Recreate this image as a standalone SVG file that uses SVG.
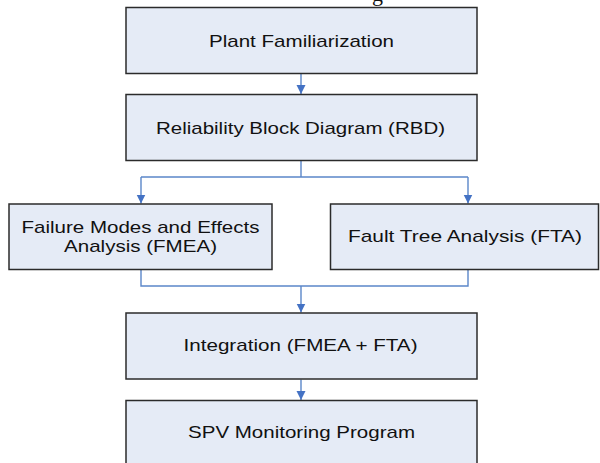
<svg xmlns="http://www.w3.org/2000/svg" width="600" height="463" viewBox="0 0 600 463">
  <style>
    .box { fill: #e5ebf6; stroke: #2b2b2b; stroke-width: 1.5; }
    .lbl { font-family: "Liberation Sans", Arial, sans-serif; font-size: 17px; fill: #111; text-anchor: middle; }
    .conn { fill: none; stroke: #5b87c9; stroke-width: 1.4; }
    .cap { font-family: "Liberation Serif", "Times New Roman", serif; font-size: 22px; fill: #111; }
  </style>
  <defs>
    <marker id="arrow" markerUnits="userSpaceOnUse" markerWidth="10" markerHeight="10" refX="9" refY="4.5" orient="auto">
      <path d="M0,0 L9,4.5 L0,9 Z" fill="#4472c4"/>
    </marker>
  </defs>

  <!-- descender of the caption line above the chart -->
  <text class="cap" x="372" y="0.5">g</text>

  <g id="connectors">
    <path class="conn" d="M301,73.5 V94" marker-end="url(#arrow)"/>
    <path class="conn" d="M301,160.5 V177 M141,177 H468"/>
    <path class="conn" d="M141,177 V203.5" marker-end="url(#arrow)"/>
    <path class="conn" d="M468,177 V203.5" marker-end="url(#arrow)"/>
    <path class="conn" d="M141,269.5 V286 H468 V269.5"/>
    <path class="conn" d="M301,286 V312.5" marker-end="url(#arrow)"/>
    <path class="conn" d="M301,379.5 V400" marker-end="url(#arrow)"/>
  </g>

  <g id="plant-familiarization">
    <rect class="box" x="126" y="7.5" width="351" height="66"/>
    <text class="lbl" x="301.5" y="46.5" textLength="185" lengthAdjust="spacingAndGlyphs">Plant Familiarization</text>
  </g>

  <g id="rbd">
    <rect class="box" x="126" y="94.5" width="351" height="66"/>
    <text class="lbl" x="300.5" y="134" textLength="289" lengthAdjust="spacingAndGlyphs">Reliability Block Diagram (RBD)</text>
  </g>

  <g id="fmea">
    <rect class="box" x="9" y="204" width="263" height="65.5"/>
    <text class="lbl" x="140.5" y="232.5" textLength="238" lengthAdjust="spacingAndGlyphs">Failure Modes and Effects</text>
    <text class="lbl" x="140.5" y="251.5" textLength="153" lengthAdjust="spacingAndGlyphs">Analysis (FMEA)</text>
  </g>

  <g id="fta">
    <rect class="box" x="330.5" y="204" width="268" height="65.5"/>
    <text class="lbl" x="465" y="242" textLength="234" lengthAdjust="spacingAndGlyphs">Fault Tree Analysis (FTA)</text>
  </g>

  <g id="integration">
    <rect class="box" x="126" y="313" width="351" height="66"/>
    <text class="lbl" x="300.5" y="351" textLength="234" lengthAdjust="spacingAndGlyphs">Integration (FMEA + FTA)</text>
  </g>

  <g id="spv-monitoring">
    <rect class="box" x="126" y="400.5" width="351" height="66"/>
    <text class="lbl" x="301.5" y="438" textLength="227" lengthAdjust="spacingAndGlyphs">SPV Monitoring Program</text>
  </g>
</svg>
